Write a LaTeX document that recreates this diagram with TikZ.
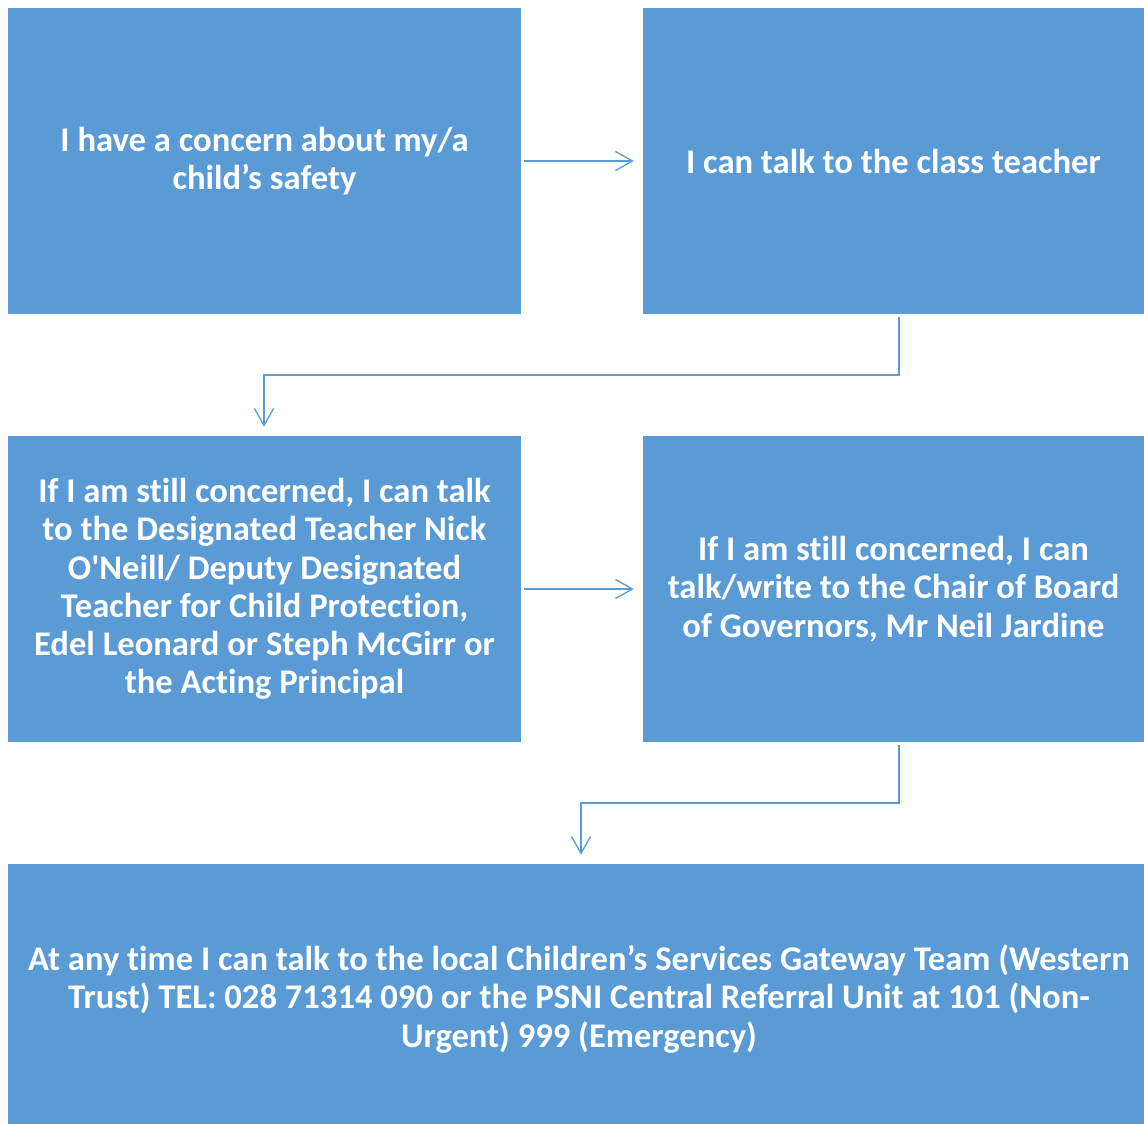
\documentclass[tikz,border=0pt]{standalone}
\usepackage{fontspec}
\setmainfont{Carlito}[Ligatures=NoCommon]
\usetikzlibrary{arrows.meta}
\definecolor{boxblue}{HTML}{5B9BD5}
\tikzset{
  boxtext/.style={inner sep=0pt, align=center, text=white,
    font=\bfseries\fontsize{34.6}{38.3}\selectfont},
  stepbox/.style={rectangle, fill=boxblue, draw=none, boxtext},
  conn/.style={draw=boxblue, line width=1.3pt, -{Straight Barb[length=17pt,width=19pt,line width=1.3pt]}}
}
\begin{document}
\begin{tikzpicture}[x=1pt,y=1pt]
\useasboundingbox (0,0) rectangle (1144,-1124);
\node[stepbox, minimum width=513pt, minimum height=306pt] (b1) at (264.5,-161) {I have a concern about my/a\\child’s safety};
\node[stepbox, minimum width=501pt, minimum height=306pt] (b2) at (893.5,-161) {I can talk to the class teacher};
\node[stepbox, minimum width=513pt, minimum height=306pt] (b3) at (264.5,-589) {If I am still concerned, I can talk\\to the Designated Teacher Nick\\O\textquotesingle Neill/ Deputy Designated\\Teacher for Child Protection,\\Edel Leonard or Steph McGirr or\\the Acting Principal};
\node[stepbox, minimum width=501pt, minimum height=306pt] (b4) at (893.5,-589) {If I am still concerned, I can\\talk/write to the Chair of Board\\of Governors, Mr Neil Jardine};
\node[stepbox, minimum width=1136pt, minimum height=260pt] (b5) at (576,-994) {};
\node[boxtext] (b5t) at ([xshift=3pt,yshift=-5pt]b5.center) {At any time I can talk to the local Children’s Services Gateway Team (Western\\Trust) TEL: 028 71314 090 or the PSNI Central Referral Unit at 101 (Non-\\Urgent) 999 (Emergency)};
\coordinate (m1) at (264,-375);
\coordinate (m2) at (581,-803);
\draw[conn] ([xshift=3pt]b1.east) -- ([xshift=-9pt]b2.west);
\draw[conn] ([xshift=3pt]b3.east) -- ([xshift=-9pt]b4.west);
\draw[conn] ([xshift=5.5pt,yshift=-3pt]b2.south) |- (m1) -- ([xshift=-0.5pt,yshift=9pt]b3.north);
\draw[conn] ([xshift=5.5pt,yshift=-3pt]b4.south) |- (m2) -- ([xshift=5pt,yshift=9pt]b5.north);
\end{tikzpicture}
\end{document}
